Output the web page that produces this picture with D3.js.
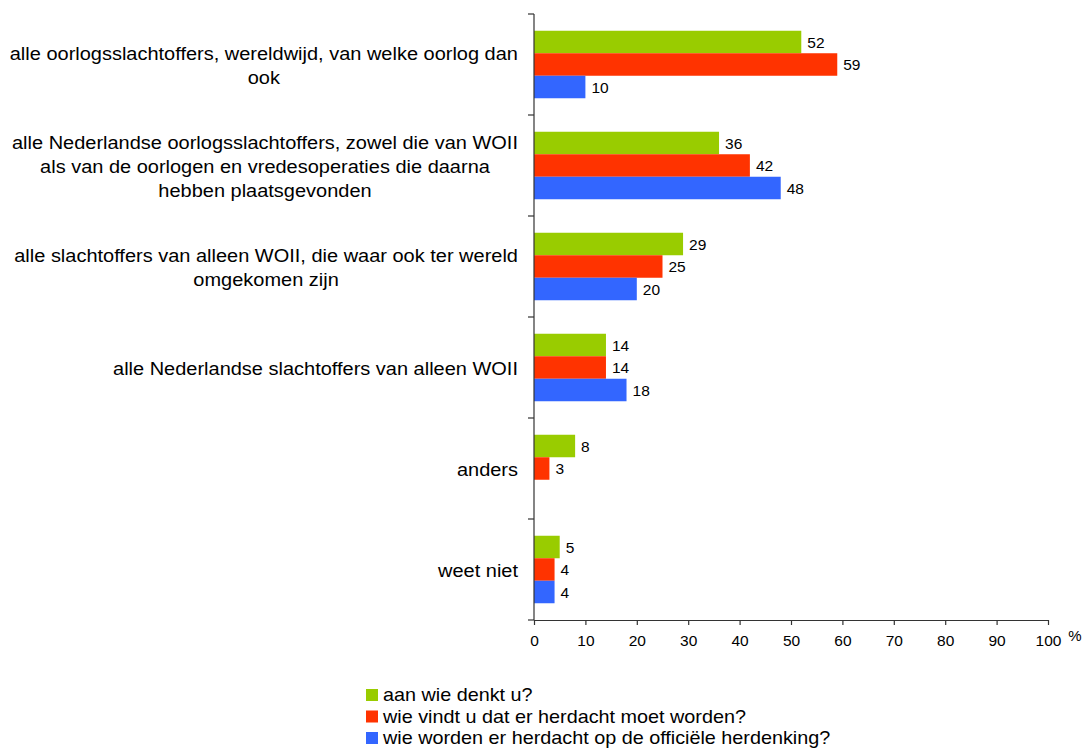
<!DOCTYPE html>
<html><head><meta charset="utf-8">
<script src="https://cdn.jsdelivr.net/npm/d3@7"></script>
<style>body{margin:0;background:#fff}svg{font-family:"Liberation Sans",Arial,sans-serif}</style>
</head><body>
<svg id="c" width="1085" height="749"></svg>
<script>
const categories = [
  ["alle oorlogsslachtoffers, wereldwijd, van welke oorlog dan", "ook"],
  ["alle Nederlandse oorlogsslachtoffers, zowel die van WOII", "als van de oorlogen en vredesoperaties die daarna", "hebben plaatsgevonden"],
  ["alle slachtoffers van alleen WOII, die waar ook ter wereld", "omgekomen zijn"],
  ["alle Nederlandse slachtoffers van alleen WOII"],
  ["anders"],
  ["weet niet"]
];
const seriesNames = ["aan wie denkt u?", "wie vindt u dat er herdacht moet worden?", "wie worden er herdacht op de officiële herdenking?"];
const seriesGreen = [52, 36, 29, 14, 8, 5];
const seriesRed = [59, 42, 25, 14, 3, 4];
const seriesBlue = [10, 48, 20, 18, null, 4];
const xTicks = [0,10,20,30,40,50,60,70,80,90,100];
const colors = ["#99cc00", "#ff3300", "#3366ff"];

(function(){
const series = [seriesGreen, seriesRed, seriesBlue];
const svg = d3.select("#c");
const pLeft = 534, pRight = 1048, pTop = 14, pBottom = 620;
const x = d3.scaleLinear().domain([0, 100]).range([pLeft, pRight]);
const y = d3.scaleBand().domain(d3.range(categories.length)).range([pTop, pBottom]);
const inner = d3.scaleBand().domain([0,1,2]).range([0, 67.5]);
const off = (y.bandwidth() - 67.5) / 2;

series.forEach((vals, si) => {
  const g = svg.append("g");
  vals.forEach((v, ci) => {
    if (v === null) return;
    const by = y(ci) + off + inner(si);
    g.append("rect").attr("x", x(0)).attr("y", by).attr("width", x(v) - x(0)).attr("height", inner.bandwidth()).attr("fill", colors[si]);
    g.append("text").attr("x", x(v) + 6).attr("y", by + inner.bandwidth()/2).attr("dy", "0.36em")
      .attr("font-size", 15.5).attr("fill", "#000").text(v);
  });
});

const ax = svg.append("g").attr("stroke", "#333").attr("stroke-width", 1.2);
ax.append("line").attr("x1", pLeft).attr("x2", pLeft).attr("y1", pTop).attr("y2", pBottom);
d3.range(categories.length + 1).forEach(i => {
  const ty = i < categories.length ? y(i) : pBottom;
  ax.append("line").attr("x1", pLeft - 6).attr("x2", pLeft).attr("y1", ty).attr("y2", ty);
});
const xa = svg.append("g").attr("transform", `translate(0,${pBottom})`)
  .call(d3.axisBottom(x).tickValues(xTicks).tickSize(5).tickSizeOuter(0).tickPadding(10));
xa.select(".domain").attr("stroke", "#333").attr("stroke-width", 1.2);
xa.selectAll(".tick line").attr("stroke", "#333").attr("stroke-width", 1.2);
xa.selectAll(".tick text").attr("font-size", 15.5).attr("font-family", "Liberation Sans, Arial, sans-serif").attr("fill", "#000");
svg.append("text").attr("x", 1075).attr("y", 641).attr("font-size", 15).attr("text-anchor", "middle").text("%");

const lblRight = 518, lh = 24, sx = 1.08;
categories.forEach((lines, ci) => {
  const cy = y(ci) + y.bandwidth()/2 + 1;
  const g = svg.append("g");
  const texts = lines.map((l, li) => g.append("text").attr("font-size", 18.5).attr("fill", "#000")
    .attr("text-anchor", "middle").attr("dy", "0.36em").text(l));
  const maxW = d3.max(texts, t => t.node().getComputedTextLength()) * sx;
  const cx = lblRight - maxW/2;
  texts.forEach((t, li) => t.attr("transform", `translate(${cx},${cy + (li - (lines.length - 1)/2) * lh}) scale(${sx},1)`));
});

seriesNames.forEach((n, i) => {
  const ly = 695 + i * 21.5;
  svg.append("rect").attr("x", 366).attr("y", ly - 6).attr("width", 12).attr("height", 12).attr("fill", colors[i]);
  svg.append("text").attr("transform", `translate(383,${ly}) scale(1.1,1)`).attr("dy", "0.36em")
    .attr("font-size", 18).attr("fill", "#000").text(n);
});
})();
</script>
</body></html>
